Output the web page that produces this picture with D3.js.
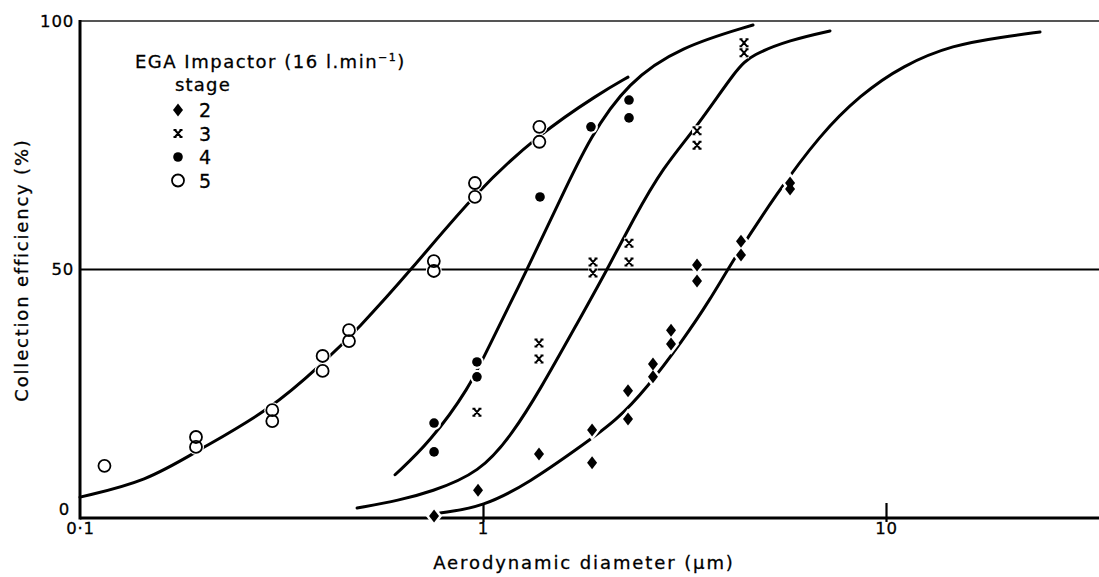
<!DOCTYPE html>
<html>
<head>
<meta charset="utf-8">
<script src="https://cdn.jsdelivr.net/npm/d3@7"></script>
<style>
body { margin: 0; background: #fff; }
svg { display: block; font-family: "DejaVu Sans", sans-serif; }
svg text { stroke: #000; stroke-width: 0.3px; }
</style>
</head>
<body>
<svg id="chart" width="1099" height="577"></svg>
<script>

// measured points: aerodynamic diameter (um) and collection efficiency (%)
var stage2Diameter = [0.756, 0.972, 1.377, 1.865, 1.865, 2.29, 2.29, 2.641, 2.641, 2.928, 2.928, 3.397, 3.397, 4.367, 4.367, 5.78, 5.78]
var stage2Efficiency = [0.4, 5.6, 12.9, 17.7, 11.1, 25.6, 19.9, 31.0, 28.4, 37.8, 35.0, 50.9, 47.7, 55.7, 52.9, 67.4, 66.2]

var stage3Diameter = [0.966, 1.377, 1.377, 1.875, 1.875, 2.303, 2.303, 3.397, 3.397, 4.443, 4.443]
var stage3Efficiency = [21.3, 35.2, 32.0, 51.5, 49.3, 55.3, 51.5, 77.9, 75.0, 95.6, 93.6]

var stage4Diameter = [0.756, 0.756, 0.966, 0.966, 1.385, 1.853, 2.303, 2.303]
var stage4Efficiency = [19.1, 13.3, 31.4, 28.4, 64.6, 78.7, 84.1, 80.5]

var stage5Diameter = [0.115, 0.194, 0.194, 0.30, 0.30, 0.40, 0.40, 0.465, 0.465, 0.755, 0.755, 0.955, 0.955, 1.38, 1.38]
var stage5Efficiency = [10.5, 16.3, 14.3, 21.7, 19.5, 32.6, 29.6, 37.8, 35.6, 51.7, 49.7, 67.4, 64.6, 78.7, 75.7]

// hand-drawn fitted curves
var curve2Diameter = [0.782, 1.0, 1.308, 1.741, 2.15, 2.553, 3.135, 3.659, 4.173, 5.364, 6.86, 8.622, 11.02, 14.66, 19.51, 24.11]
var curve2Efficiency = [1.0, 2.2, 7.2, 14.3, 19.7, 26.2, 35.8, 43.9, 51.9, 65.4, 77.1, 85.1, 91.1, 95.2, 96.8, 97.8]

var curve3Diameter = [0.487, 0.622, 0.739, 0.983, 1.187, 1.385, 1.682, 2.043, 2.356, 2.797, 3.397, 4.268, 4.651, 5.78, 7.262]
var curve3Efficiency = [2.0, 3.6, 5.2, 9.1, 17.1, 25.8, 38.0, 50.3, 60.0, 70.6, 78.7, 90.5, 93.2, 96.2, 98.0]

var curve4Diameter = [0.605, 0.739, 0.928, 1.023, 1.286, 1.553, 1.843, 2.29, 3.083, 4.677]
var curve4Efficiency = [8.7, 15.3, 26.4, 33.8, 49.9, 64.0, 76.7, 87.7, 94.8, 99.2]

var curve5Diameter = [0.1, 0.1466, 0.1951, 0.2961, 0.4009, 0.4867, 0.6665, 0.9608, 1.369, 1.951, 2.29]
var curve5Efficiency = [4.2, 7.4, 13.5, 21.7, 31.2, 37.8, 50.1, 65.6, 77.1, 85.5, 88.7]

var stages = ["2", "3", "4", "5"]
var xTicks = [0.1, 1, 10]
var xTickLabels = ["0·1", "1", "10"]
var yTicks = [0, 50, 100]


function drawChart() {

    var svg = d3.select("#chart")
    var left = 80, right = 1099, top = 21, bottom = 518

    var x = d3.scaleLog().domain([0.1, 10]).range([left, 886])
    var y = d3.scaleLinear().domain([0, 100]).range([bottom, top])

    svg.append("rect").attr("width", 1099).attr("height", 577).attr("fill", "#fff")

    // frame: top 100% line, 50% line, axes
    svg.append("line").attr("x1", left).attr("x2", right).attr("y1", y(100)).attr("y2", y(100))
        .attr("stroke", "#555").attr("stroke-width", 2)
    svg.append("line").attr("x1", left).attr("x2", right).attr("y1", y(50)).attr("y2", y(50))
        .attr("stroke", "#000").attr("stroke-width", 2.2)

    var xAxis = d3.axisBottom(x).tickValues(xTicks)
        .tickFormat(function(d, i) {return xTickLabels[i]})
        .tickSizeInner(-15).tickSizeOuter(0).tickPadding(20)
    var gx = svg.append("g").attr("transform", "translate(0," + bottom + ")").call(xAxis)
    gx.select(".domain").remove()
    gx.selectAll(".tick line").attr("stroke-width", 2.2).attr("y1", 4)
    gx.selectAll(".tick text").attr("font-size", 16.5).attr("letter-spacing", 0.8)
        .attr("font-family", "DejaVu Sans").attr("dy", "-0.25em")
    gx.selectAll(".tick").filter(function(d) {return d == 0.1}).select("line").remove()
    svg.append("line").attr("x1", left).attr("x2", right).attr("y1", bottom).attr("y2", bottom)
        .attr("stroke", "#000").attr("stroke-width", 3.2)

    var yAxis = d3.axisLeft(y).tickValues(yTicks).tickSize(0).tickPadding(6)
    var gy = svg.append("g").attr("transform", "translate(" + left + ",0)").call(yAxis)
    gy.select(".domain").remove()
    gy.selectAll(".tick text").attr("font-size", 16.5).attr("letter-spacing", 0.8).attr("font-family", "DejaVu Sans")
    gy.selectAll(".tick").filter(function(d) {return d == 0}).select("text").attr("dy", "-0.2em").attr("dx", -4)
    svg.append("line").attr("x1", left).attr("x2", left).attr("y1", top - 1).attr("y2", bottom + 1.5)
        .attr("stroke", "#000").attr("stroke-width", 3)

    // axis titles
    svg.append("text").attr("x", 584).attr("y", 569).attr("text-anchor", "middle")
        .attr("font-size", 18).attr("letter-spacing", 1.9).text("Aerodynamic diameter (μm)")
    svg.append("text").attr("transform", "translate(28,270) rotate(-90)").attr("text-anchor", "middle")
        .attr("font-size", 18).attr("letter-spacing", 1.8).text("Collection efficiency (%)")

    // curves
    var line = d3.line().x(function(d) {return x(d[0])}).y(function(d) {return y(d[1])})
        .curve(d3.curveBasis)
    var curves = [
        d3.zip(curve2Diameter, curve2Efficiency),
        d3.zip(curve3Diameter, curve3Efficiency),
        d3.zip(curve4Diameter, curve4Efficiency),
        d3.zip(curve5Diameter, curve5Efficiency)
    ]
    svg.append("g").selectAll("path").data(curves).enter().append("path")
        .attr("d", line).attr("fill", "none").attr("stroke", "#000")
        .attr("stroke-width", 3).attr("stroke-linecap", "round")

    // marker shapes
    var diamond = "M0,-6.5L5,0L0,6.5L-5,0Z"
    var cross = "M-3,-3.5L3,3.5M3,-3.5L-3,3.5M-4.5,-3.5H-1.5M1.5,-3.5H4.5M-4.5,3.5H-1.5M1.5,3.5H4.5"

    var points = [
        {stage: "2", data: d3.zip(stage2Diameter, stage2Efficiency)},
        {stage: "3", data: d3.zip(stage3Diameter, stage3Efficiency)},
        {stage: "4", data: d3.zip(stage4Diameter, stage4Efficiency)},
        {stage: "5", data: d3.zip(stage5Diameter, stage5Efficiency)}
    ]

    function drawMarker(g, stage, halo) {
        if (stage == "2") {
            g.append("path").attr("d", diamond).attr("fill", halo ? "#fff" : "#000")
                .attr("stroke", halo ? "#fff" : "none").attr("stroke-width", halo ? 5 : 0)
        } else if (stage == "3") {
            if (halo) {
                g.append("rect").attr("x", -5).attr("y", -5.5).attr("width", 10).attr("height", 11).attr("fill", "#fff")
            } else {
                g.append("path").attr("d", cross).attr("fill", "none").attr("stroke", "#000").attr("stroke-width", 2)
            }
        } else if (stage == "4") {
            g.append("circle").attr("r", halo ? 7 : 4.8).attr("fill", halo ? "#fff" : "#000")
        } else {
            if (halo) {
                g.append("circle").attr("r", 8).attr("fill", "#fff")
            } else {
                g.append("circle").attr("r", 6).attr("fill", "none").attr("stroke", "#000").attr("stroke-width", 1.8)
            }
        }
    }

    // white halos break the curves around the points, as on the drawing
    points.forEach(function(s) {
        svg.append("g").selectAll("g").data(s.data).enter().append("g")
            .attr("transform", function(d) {return "translate(" + x(d[0]) + "," + y(d[1]) + ")"})
            .each(function() {drawMarker(d3.select(this), s.stage, true)})
    })
    points.forEach(function(s) {
        svg.append("g").selectAll("g").data(s.data).enter().append("g")
            .attr("transform", function(d) {return "translate(" + x(d[0]) + "," + y(d[1]) + ")"})
            .each(function() {drawMarker(d3.select(this), s.stage, false)})
    })

    // legend
    var legend = svg.append("g")
    var title = legend.append("text").attr("x", 135).attr("y", 68).attr("font-size", 18).attr("letter-spacing", 1.5)
    title.append("tspan").text("EGA Impactor (16 l.min")
    title.append("tspan").attr("font-size", 11).attr("dy", -7).text("−1")
    title.append("tspan").attr("dy", 7).text(")")
    legend.append("text").attr("x", 175).attr("y", 91).attr("font-size", 18).attr("letter-spacing", 1.2).text("stage")

    var items = legend.selectAll("g.item").data(stages).enter().append("g").attr("class", "item")
        .attr("transform", function(d, i) {return "translate(178," + (110 + i * 23.5) + ")"})
    items.each(function(d) {drawMarker(d3.select(this), d, false)})
    items.append("text").attr("x", 21).attr("y", 7).attr("font-size", 19).text(function(d) {return d})
}

drawChart()
</script>
</body>
</html>
